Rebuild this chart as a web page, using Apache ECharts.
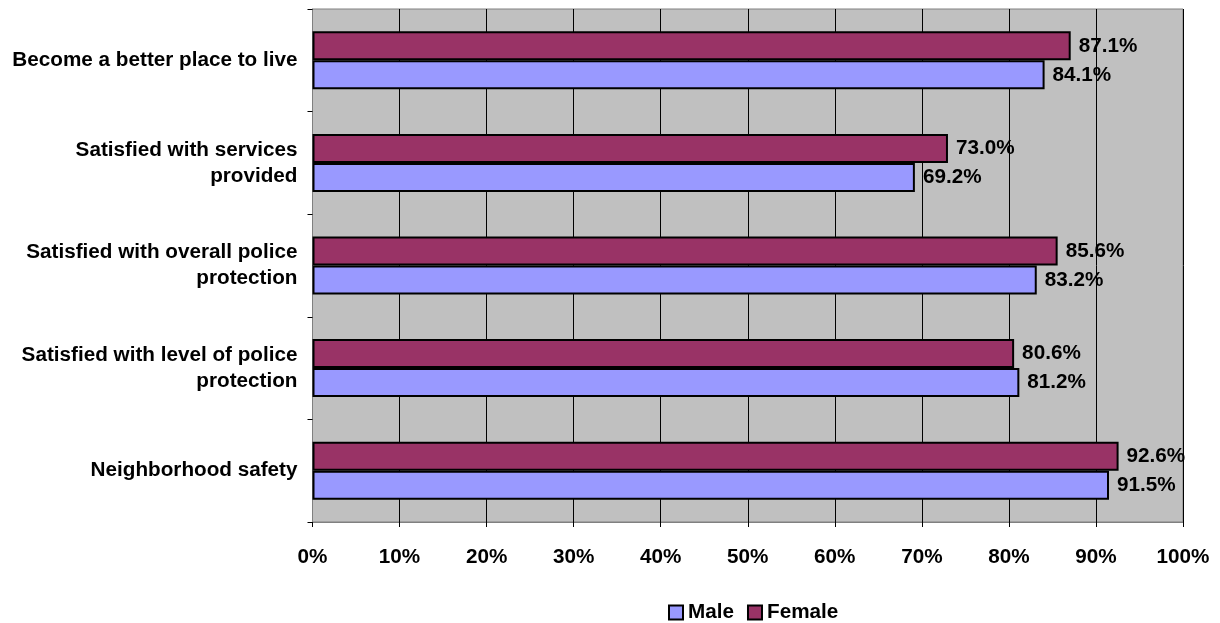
<!DOCTYPE html>
<html>
<head>
<meta charset="utf-8">
<script src="https://cdn.jsdelivr.net/npm/echarts@6/dist/echarts.min.js"></script>
<style>
  html, body { margin: 0; padding: 0; background: #fff; }
  #chart { width: 1220px; height: 623px; }
</style>
</head>
<body>
<div id="chart"></div>
<script>
// Survey items, listed bottom to top along the category axis
const categories = [
  'Neighborhood safety',
  'Satisfied with level of police\nprotection',
  'Satisfied with overall police\nprotection',
  'Satisfied with services\nprovided',
  'Become a better place to live'
];
// Percent agreeing, by respondent gender
const maleValues = [91.5, 81.2, 83.2, 69.2, 84.1];
const femaleValues = [92.6, 80.6, 85.6, 73.0, 87.1];
const xTicks = [0, 10, 20, 30, 40, 50, 60, 70, 80, 90, 100];

const FONT = "'Liberation Sans', Arial, sans-serif";
const FS = 20.7;

const chart = echarts.init(document.getElementById('chart'), null, { renderer: 'canvas' });

const valueLabel = {
  show: true,
  position: 'right',
  distance: 8,
  color: '#000',
  fontFamily: FONT,
  fontWeight: 'bold',
  fontSize: FS,
  formatter: p => p.value.toFixed(1) + '%'
};

chart.setOption({
  animation: false,
  backgroundColor: '#fff',
  grid: {
    left: 312.5,
    right: 37,
    top: 9,
    bottom: 101,
    show: true,
    backgroundColor: '#C0C0C0',
    borderColor: '#808080',
    borderWidth: 1
  },
  legend: {
    data: ['Male', 'Female'],
    left: 663,
    top: 597,
    itemWidth: 14,
    itemHeight: 14,
    itemGap: 13,
    icon: 'rect',
    textStyle: { color: '#000', fontFamily: FONT, fontWeight: 'bold', fontSize: FS }
  },
  xAxis: {
    type: 'value',
    min: xTicks[0],
    max: xTicks[xTicks.length - 1],
    interval: 10,
    axisLine: { show: true, lineStyle: { color: '#808080', width: 1 } },
    axisTick: { show: true, length: 5, lineStyle: { color: '#000' } },
    splitLine: { show: true, lineStyle: { color: '#000', width: 1 } },
    axisLabel: {
      margin: 25,
      color: '#000',
      fontFamily: FONT,
      fontWeight: 'bold',
      fontSize: FS,
      formatter: v => v + '%'
    }
  },
  yAxis: {
    type: 'category',
    data: categories,
    axisLine: { show: true, lineStyle: { color: '#808080', width: 1 } },
    axisTick: { show: true, length: 5, inside: false, lineStyle: { color: '#000' } },
    splitLine: { show: false },
    axisLabel: {
      margin: 15,
      color: '#000',
      fontFamily: FONT,
      fontWeight: 'bold',
      fontSize: FS,
      lineHeight: 26,
      align: 'right'
    }
  },
  series: [
    {
      name: 'Female',
      type: 'bar',
      data: femaleValues,
      barWidth: 29,
      barGap: '0%',
      itemStyle: { color: '#993366', borderColor: '#000', borderWidth: 2 },
      label: valueLabel
    },
    {
      name: 'Male',
      type: 'bar',
      data: maleValues,
      barWidth: 29,
      barGap: '0%',
      itemStyle: { color: '#9999FF', borderColor: '#000', borderWidth: 2 },
      label: valueLabel
    }
  ]
});
</script>
</body>
</html>
